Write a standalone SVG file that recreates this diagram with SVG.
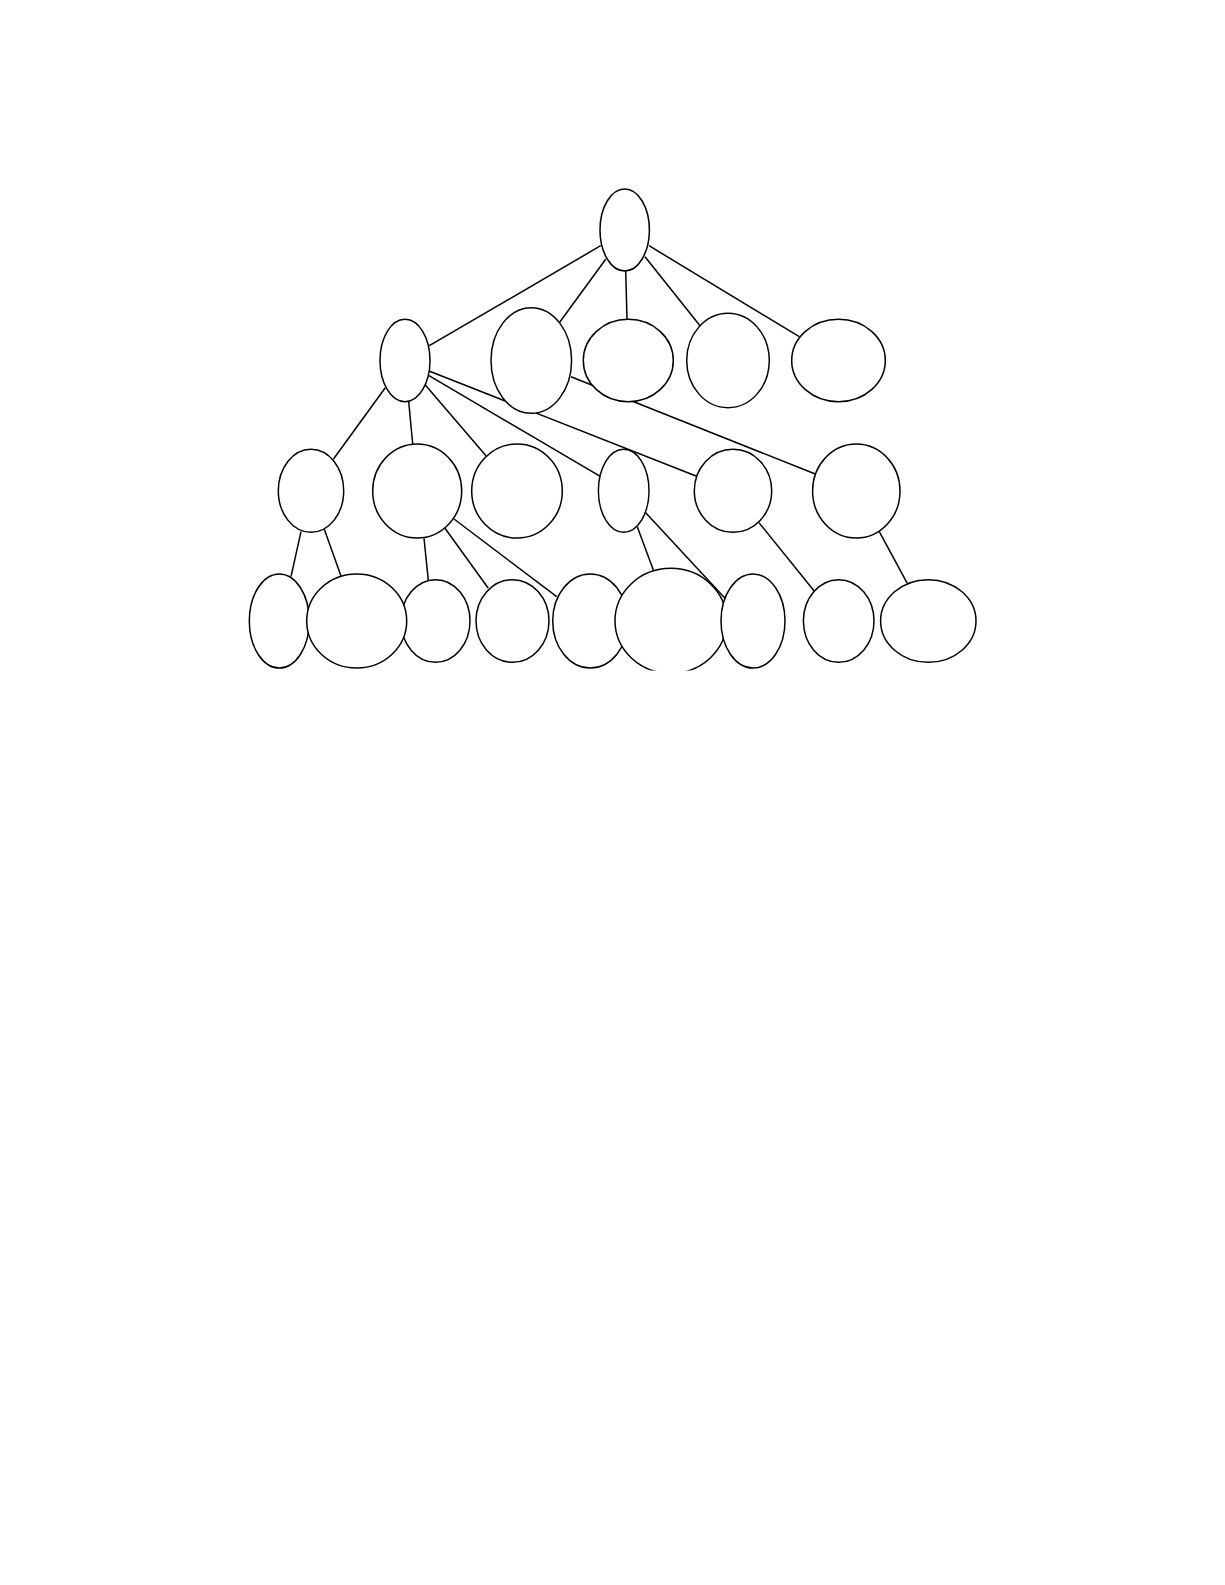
<svg xmlns="http://www.w3.org/2000/svg" width="1225" height="1585" viewBox="0 0 1225 1585">
<style>
.n{fill:#fff;stroke:#000;stroke-width:1.5}
.e{stroke:#000;stroke-width:1.5;fill:none}
</style>
<defs>
<clipPath id="cut"><rect x="0" y="0" width="1225" height="670.5"/></clipPath>
</defs>
<rect width="1225" height="1585" fill="#fff"/>
<g id="connectors">
<line class="e" x1="600.7" y1="245.7" x2="429.3" y2="345.7"/>
<line class="e" x1="605.7" y1="259.3" x2="559.3" y2="322.7"/>
<line class="e" x1="625.7" y1="271" x2="627" y2="319.3"/>
<line class="e" x1="645" y1="256.7" x2="700" y2="325.7"/>
<line class="e" x1="649" y1="245.7" x2="799.3" y2="336.7"/>
<line class="e" x1="385.3" y1="387.7" x2="333.3" y2="459.3"/>
<line class="e" x1="408.7" y1="401.7" x2="412.7" y2="444"/>
<line class="e" x1="425.3" y1="385" x2="486" y2="455.7"/>
<line class="e" x1="429" y1="375.7" x2="600.7" y2="476.7"/>
<line class="e" x1="429" y1="371" x2="696" y2="476"/>
<line class="e" x1="571" y1="376.7" x2="815.3" y2="474"/>
<line class="e" x1="301" y1="531.7" x2="291" y2="576.7"/>
<line class="e" x1="324.3" y1="529.3" x2="341" y2="576"/>
<line class="e" x1="424" y1="538.3" x2="428.3" y2="580"/>
<line class="e" x1="445" y1="528.3" x2="488.3" y2="588.3"/>
<line class="e" x1="454" y1="519" x2="556.7" y2="596.7"/>
<line class="e" x1="637.3" y1="526.7" x2="653.3" y2="570"/>
<line class="e" x1="645.7" y1="512.7" x2="725" y2="598.3"/>
<line class="e" x1="759" y1="522.7" x2="814" y2="590.7"/>
<line class="e" x1="879.3" y1="531.7" x2="907.3" y2="583.3"/>
</g>
<g id="root"><ellipse class="n" cx="624.7" cy="230" rx="24.7" ry="41"/></g>
<g id="n_a"><ellipse class="n" cx="405" cy="360.5" rx="25" ry="41.2"/></g>
<g id="n_b"><ellipse class="n" cx="531.3" cy="360.5" rx="40.3" ry="52.8"/></g>
<g id="n_c"><ellipse class="n" cx="628.3" cy="360.5" rx="45" ry="41.2"/></g>
<g id="n_d"><ellipse class="n" cx="728" cy="360.5" rx="41.3" ry="47.2"/></g>
<g id="n_e"><ellipse class="n" cx="838.5" cy="360.5" rx="46.8" ry="41.2"/></g>
<g id="n_f"><ellipse class="n" cx="311" cy="490.8" rx="32.7" ry="41.5"/></g>
<g id="n_g"><ellipse class="n" cx="417.2" cy="491" rx="44.5" ry="47"/></g>
<g id="n_h"><ellipse class="n" cx="517" cy="491" rx="45.3" ry="47"/></g>
<g id="n_i"><ellipse class="n" cx="623.7" cy="490.8" rx="25.3" ry="41.5"/></g>
<g id="n_j"><ellipse class="n" cx="733" cy="490.8" rx="38.7" ry="41.5"/></g>
<g id="n_k"><ellipse class="n" cx="856.3" cy="491" rx="43.7" ry="47"/></g>
<g id="n_l"><ellipse class="n" cx="279.3" cy="621" rx="30" ry="47"/></g>
<g id="n_n"><ellipse class="n" cx="435.5" cy="621" rx="34.5" ry="41.3"/></g>
<g id="n_m"><ellipse class="n" cx="356.7" cy="621" rx="50" ry="47"/></g>
<g id="n_o"><ellipse class="n" cx="512.5" cy="621" rx="36.5" ry="41.3"/></g>
<g id="n_p"><ellipse class="n" cx="590.3" cy="621" rx="37.6" ry="47"/></g>
<g id="n_q"><ellipse class="n" cx="670.8" cy="620.8" rx="55.8" ry="52.5" clip-path="url(#cut)"/></g>
<g id="n_r"><ellipse class="n" cx="753" cy="621" rx="32" ry="47"/></g>
<g id="n_s"><ellipse class="n" cx="838.7" cy="621" rx="35.3" ry="41.3"/></g>
<g id="n_t"><ellipse class="n" cx="928.3" cy="621" rx="47.7" ry="41.3"/></g>
</svg>
